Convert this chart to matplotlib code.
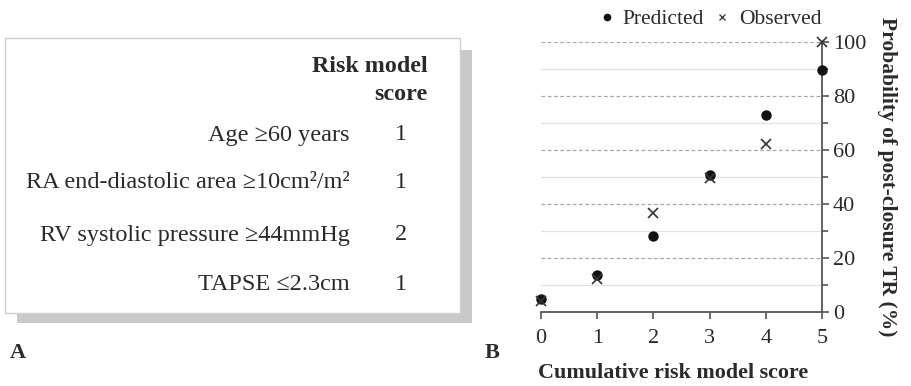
import matplotlib
matplotlib.use("Agg")
import matplotlib.pyplot as plt
from matplotlib.patches import Rectangle
from matplotlib.lines import Line2D

# ---- data ----
factors = ["Age \u226560 years", "RA end-diastolic area \u226510cm\u00b2/m\u00b2",
           "RV systolic pressure \u226544mmHg", "TAPSE \u22642.3cm"]
factor_scores = [1, 1, 2, 1]
score_header = ["Risk model", "score"]

scores = [0, 1, 2, 3, 4, 5]
predicted = [4.8, 13.8, 28, 50.8, 72.8, 89.6]
observed = [4, 12.3, 36.8, 49.8, 62.3, 100]
y_major = [0, 20, 40, 60, 80, 100]
y_minor = [10, 30, 50, 70, 90]

SERIF = ["Liberation Serif", "DejaVu Serif"]
plt.rcParams["font.family"] = SERIF
TXT = "#2a2a2a"

W, H = 912, 386
fig = plt.figure(figsize=(W / 100, H / 100), dpi=100)

# ---- panel A: overlay in pixel coords ----
ov = fig.add_axes([0, 0, 1, 1])
ov.set_xlim(0, W)
ov.set_ylim(H, 0)
ov.axis("off")
ov.add_patch(Rectangle((17, 50), 455, 273, facecolor="#c9c9c9", edgecolor="none", zorder=1))
ov.add_patch(Rectangle((5, 38), 455, 275, facecolor="white", edgecolor="#d0d0d0", lw=1, zorder=2))
ov.text(428, 67, score_header[0], ha="right", va="center", fontsize=17.3, fontweight="bold", color=TXT, zorder=3)
ov.text(428, 94, score_header[1], ha="right", va="center", fontsize=17.3, fontweight="bold", color=TXT, zorder=3)
row_y = [135, 182, 235, 285]
for lab, sc, yy in zip(factors, factor_scores, row_y):
    ov.text(350, yy, lab, ha="right", va="center", fontsize=17.5, color=TXT, zorder=3)
    ov.text(401, yy, str(sc), ha="center", va="center", fontsize=17.5, color=TXT, zorder=3)
ov.text(10, 353, "A", ha="left", va="center", fontsize=16, fontweight="bold", color=TXT)
ov.text(485, 353, "B", ha="left", va="center", fontsize=16, fontweight="bold", color=TXT)

# ---- panel B ----
x0, x1, ytop, ybot = 541, 822, 42, 312
ax = fig.add_axes([x0 / W, (H - ybot) / H, (x1 - x0) / W, (ybot - ytop) / H])
ax.set_xlim(0, 5)
ax.set_ylim(0, 100)
for s in ["left", "top"]:
    ax.spines[s].set_visible(False)
for s in ["right", "bottom"]:
    ax.spines[s].set_color("#555555")
    ax.spines[s].set_linewidth(1.3)
ax.yaxis.tick_right()
ax.yaxis.set_label_position("right")
ax.set_yticks(y_major)
ax.set_yticks(y_minor, minor=True)
ax.set_xticks(scores)
ax.tick_params(axis="both", which="major", length=5, width=1.2, color="#555555",
               labelsize=16, labelcolor=TXT, pad=3)
ax.tick_params(axis="x", which="major", pad=7)
ax.tick_params(axis="y", which="minor", length=4, width=1.2, color="#555555")
for v in y_major[1:]:
    ax.axhline(v, color="#a8a8a8", lw=0.9, ls=(0, (3, 2)), zorder=0)
for v in y_minor:
    ax.axhline(v, color="#e2e2e2", lw=0.9, zorder=0)

ax.plot(scores, predicted, "o", color="#111111", ms=6.5, clip_on=False, zorder=3)
ax.plot(scores, observed, "x", color="#333333", ms=6.5, mew=1.2, clip_on=False, zorder=4)

ax.set_xlabel("Cumulative risk model score", fontsize=15.8, fontweight="bold", color=TXT)
ax.xaxis.set_label_coords(0.47, -0.19)
ax.set_ylabel("Probability of post-closure TR (%)", fontsize=15.5, fontweight="bold",
              color=TXT, rotation=270, labelpad=22)

handles = [Line2D([], [], ls="none", marker="o", color="#111111", ms=4.5),
           Line2D([], [], ls="none", marker="x", color="#333333", ms=4.5, mew=0.9)]
leg = ax.legend(handles, ["Predicted", "Observed"], loc="lower center", bbox_to_anchor=(0.6, 1.0),
                ncol=2, frameon=False, fontsize=15.5, handlelength=0.8, handletextpad=0.35,
                columnspacing=0.45, borderaxespad=0.2)
for t in leg.get_texts():
    t.set_color(TXT)

fig.savefig("out.png", dpi=100)
